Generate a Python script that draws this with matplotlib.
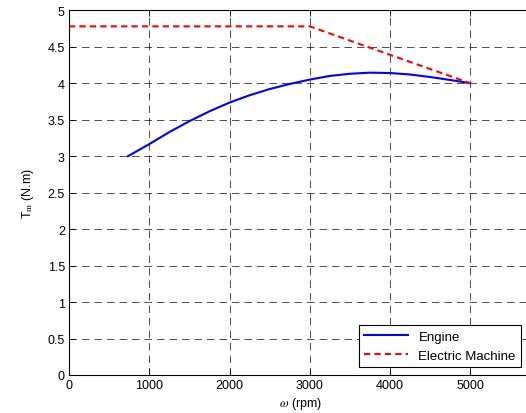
import numpy as np
import matplotlib
matplotlib.use('Agg')
import matplotlib.pyplot as plt

plt.rcParams['font.family'] = ['Liberation Sans', 'DejaVu Sans']
plt.rcParams['mathtext.fontset'] = 'stix'

# engine torque curve
engine_rpm = [735, 1000, 1250, 1500, 1750, 2000, 2250, 2500, 2750, 3000,
              3250, 3500, 3750, 4000, 4250, 4500, 4750, 5000]
engine_T = [3.0, 3.165, 3.33, 3.48, 3.615, 3.735, 3.835, 3.92, 3.99, 4.05,
            4.10, 4.13, 4.145, 4.14, 4.12, 4.085, 4.045, 4.0]

# electric machine: constant torque then falling
em_rpm = [0, 3000, 5000]
em_T = [4.78, 4.78, 4.0]

xticks = [0, 1000, 2000, 3000, 4000, 5000]
yticks = [0, 0.5, 1, 1.5, 2, 2.5, 3, 3.5, 4, 4.5, 5]
ytick_labels = ['0', '0.5', '1', '1.5', '2', '2.5', '3', '3.5', '4', '4.5', '5']

fig = plt.figure(figsize=(5.26, 4.14), dpi=100)
ax = fig.add_axes([69/526, 38/414, 1 - 69/526 + 0.01, (376 - 11.3)/414])

ax.plot(engine_rpm, engine_T, color='#0000ff', lw=1.5, label='Engine')
ax.plot(em_rpm, em_T, color='#ff0000', lw=1.5, ls=(0, (3, 2)),
        label='Electric Machine')

ax.set_xlim(0, 5760)
ax.set_ylim(0, 5)
ax.set_xticks(xticks)
ax.set_yticks(yticks)
ax.set_yticklabels(ytick_labels)
ax.tick_params(direction='in', labelsize=9, length=4, width=0.6,
               top=True, right=False, pad=3)
for s in ['left', 'bottom', 'top']:
    ax.spines[s].set_linewidth(0.8)
ax.spines['right'].set_visible(False)

ax.grid(True, color='k', lw=0.6, ls=(0, (9, 6)), alpha=0.8)

ax.set_xlabel(r'$\omega$ (rpm)', fontsize=9, labelpad=3)
ax.set_ylabel(r'T$_{\rm m}$ (N.m)', fontsize=9, labelpad=8)

leg = ax.legend(loc='lower right', fontsize=9.5, fancybox=False,
                framealpha=1, edgecolor='k', handlelength=3.3,
                borderaxespad=0.6, bbox_to_anchor=(0.995, 0.0))
leg.get_frame().set_linewidth(0.8)

fig.savefig('out.png', dpi=100)
